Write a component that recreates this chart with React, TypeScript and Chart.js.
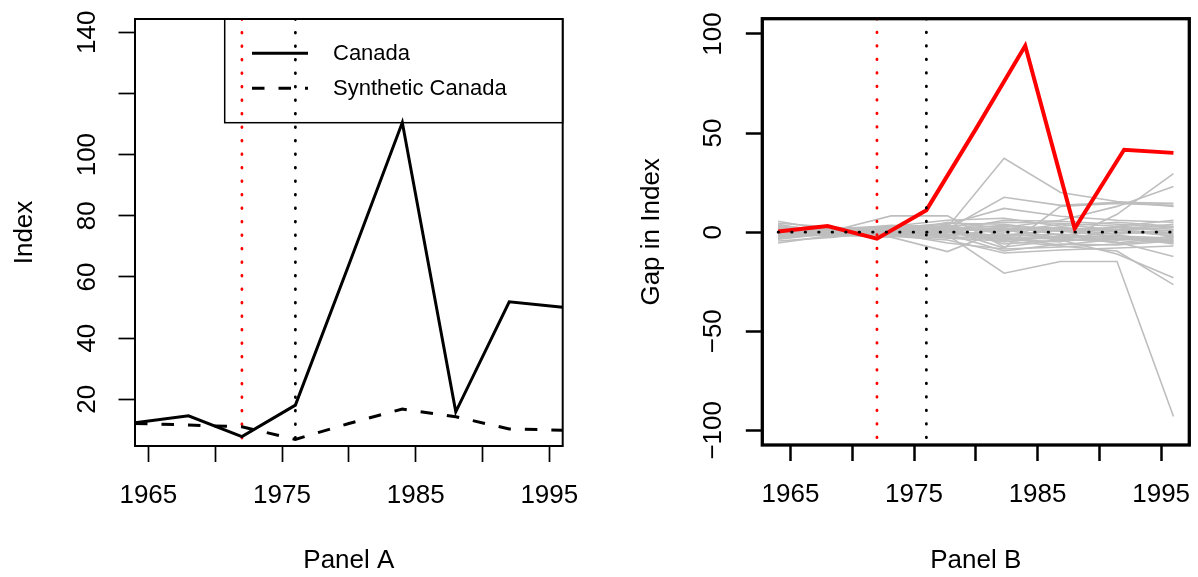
import React, { useEffect, useRef } from 'react';
import { Chart, registerables } from 'chart.js';

Chart.register(...registerables);

const FONT = '"Liberation Sans", Arial, Helvetica, sans-serif';

// ---- data ----
const years = [1964, 1968, 1972, 1976, 1980, 1984, 1988, 1992, 1996];
const canada = [12.3, 14.6, 7.8, 18.1, 64.0, 110.5, 15.9, 51.9, 50.1];
const syntheticCanada = [12.1, 11.6, 11.0, 6.9, 12.1, 16.8, 14.3, 10.3, 9.9];
const gapCanada = [0.3, 3.1, -3.3, 11.1, 52.0, 94.0, 1.8, 41.6, 40.0];

const placeboYears = [1964, 1968.57, 1973.14, 1977.71, 1982.29, 1986.86, 1991.43, 1996];
const placebo01 = [1.5, 0.5, 2.0, 2.5, 37.3, 20.0, 15.5, 13.0];
const placebo02 = [-1.0, 0.5, -0.5, 1.0, -3.5, -5.0, 9.0, 29.5];
const placebo03 = [0.5, -0.5, 1.0, 0.0, 2.5, 6.0, 13.0, 23.0];
const placebo04 = [-0.5, 1.0, 0.5, 1.5, 17.6, 13.5, 15.0, 14.5];
const placebo05 = [2.0, 1.5, 2.5, 4.0, 12.0, 8.0, 6.0, 5.0];
const placebo06 = [0.0, -1.0, 1.5, 1.0, -8.0, 13.0, 14.5, 13.5];
const placebo07 = [3.0, 1.0, 8.2, 8.2, -7.5, -4.0, 1.0, 2.5];
const placebo08 = [-2.0, -1.5, -2.5, -9.8, 1.5, 0.5, -2.0, -3.0];
const placebo09 = [1.0, -1.0, 0.0, -1.5, -20.7, -14.8, -14.8, -93.0];
const placebo10 = [-1.5, 0.0, 0.5, 2.0, -6.0, -4.0, -11.0, -23.0];
const placebo11 = [1.0, 0.5, -1.5, -3.0, -4.5, -7.0, -9.5, -26.5];
const placebo12 = [0.0, 1.0, 0.5, 0.5, -2.5, -3.5, -5.0, -12.3];
const placebo13 = [5.5, 0.5, 1.0, 2.0, 3.0, 2.0, 1.5, 4.0];
const placebo14 = [-5.5, -1.5, -0.5, 0.5, -2.0, -1.0, -3.0, -5.0];
const placebo15 = [4.0, -1.0, 0.0, 3.0, 5.0, 4.5, 3.0, 1.5];
const placebo16 = [-3.5, 1.5, 1.0, -1.0, -9.5, -6.0, -6.5, -4.5];
const placebo17 = [2.5, -2.0, -1.0, 5.0, 2.0, -3.0, -2.0, -6.0];
const placebo18 = [-3.0, 2.0, 3.0, 6.0, 7.0, 3.0, 5.0, 3.0];
const placebo19 = [3.5, 0.0, -2.0, -4.0, -10.5, -9.0, -8.0, -7.0];
const placebo20 = [-4.5, -2.5, 1.5, 2.0, 1.0, 2.5, 0.0, -1.0];
const placebo21 = [2.0, 1.0, -1.0, 0.5, -5.0, -2.0, -4.0, -2.5];
const placebo22 = [-2.5, 0.0, 2.0, 4.5, 4.0, 0.5, 1.0, -2.0];
const placebo23 = [0.5, -2.0, 0.0, -2.5, -3.0, -6.5, -3.5, -4.0];
const placebo24 = [-1.0, 1.5, -1.5, 1.0, 6.0, 5.5, 4.0, 2.5];
const placebo25 = [4.5, 2.5, 0.5, -1.0, -1.5, 1.0, 2.5, 0.5];
const placebo26 = [-2.0, -1.0, 1.0, 3.5, -1.0, -3.0, -1.5, -5.5];
const placebo27 = [1.5, 0.0, -0.5, -5.5, -8.5, -7.5, -6.0, -3.5];
const placebo28 = [-3.5, -0.5, 0.0, 1.5, 3.5, -1.5, -5.5, -2.0];
const placebo29 = [0.0, 1.0, 3.5, 2.5, 0.0, 4.0, 1.0, -0.5];
const placebo30 = [2.5, -0.5, -1.0, -2.0, 1.5, -4.5, -3.0, -4.5];
const placebo31 = [-1.0, 0.5, 0.0, 0.0, -4.0, -2.0, 3.0, 6.0];
const placebo32 = [1.0, -1.5, 2.5, 1.0, 2.0, 1.5, -1.0, 1.0];
const placeboGaps = [
  placebo01, placebo02, placebo03, placebo04, placebo05, placebo06, placebo07, placebo08,
  placebo09, placebo10, placebo11, placebo12, placebo13, placebo14, placebo15, placebo16,
  placebo17, placebo18, placebo19, placebo20, placebo21, placebo22, placebo23, placebo24,
  placebo25, placebo26, placebo27, placebo28, placebo29, placebo30, placebo31, placebo32,
];

const treatmentYear = 1972; // red dotted line
const policyYear = 1976; // black dotted line
const zeroLineYears = [1964, 1996.5];
const zeroLineValues = [0, 0];

const xTicks = [1965, 1970, 1975, 1980, 1985, 1990, 1995];
const xTickLabels = ['1965', '', '1975', '', '1985', '', '1995'];
const yTicksA = [20, 40, 60, 80, 100, 120, 140];
const yTickLabelsA = ['20', '40', '60', '80', '100', '', '140'];
const yTicksB = [-100, -50, 0, 50, 100];
const yTickLabelsB = ['\u2212100', '\u221250', '0', '50', '100'];

const xRangeA = [1964, 1996];
const yRangeA = [4.73, 144.35];
const xRangeB = [1962.72, 1997.28];
const yRangeB = [-107.4, 107.7];

// ---- plugins ----
const framePlugin = (lw: number) => ({
  id: 'frame',
  afterDatasetsDraw(chart: any) {
    const { ctx, chartArea: a } = chart;
    ctx.save();
    ctx.strokeStyle = '#000';
    ctx.lineWidth = lw;
    ctx.setLineDash([]);
    ctx.strokeRect(a.left, a.top, a.right - a.left, a.bottom - a.top);
    ctx.restore();
  },
});

const yLabelPlugin = (xCenter: number, ticks: number[], labels: string[]) => ({
  id: 'yRotLabels',
  afterDraw(chart: any) {
    const { ctx } = chart;
    const s = chart.scales.y;
    ctx.save();
    ctx.fillStyle = '#000';
    ctx.font = `26px ${FONT}`;
    ctx.textAlign = 'center';
    ctx.textBaseline = 'middle';
    ticks.forEach((v, i) => {
      const lab = labels[i];
      if (!lab) return;
      const py = s.getPixelForValue(v);
      ctx.save();
      ctx.translate(xCenter, py);
      ctx.rotate(-Math.PI / 2);
      ctx.fillText(lab, 0, 0);
      ctx.restore();
    });
    ctx.restore();
  },
});

const legendPlugin = {
  id: 'boxLegend',
  afterDatasetsDraw(chart: any) {
    const { ctx, chartArea } = chart;
    const w = 338;
    const h = 103.7;
    const left = chartArea.right - w;
    const top = chartArea.top;
    ctx.save();
    ctx.strokeStyle = '#000';
    ctx.lineWidth = 1.5;
    ctx.setLineDash([]);
    ctx.strokeRect(left, top, w, h);
    [0, 1].forEach((di, row) => {
      const ds = chart.data.datasets[di];
      const y = top + 34.3 + row * 35;
      ctx.beginPath();
      ctx.setLineDash(ds.borderDash || []);
      ctx.lineWidth = ds.borderWidth;
      ctx.strokeStyle = ds.borderColor;
      ctx.moveTo(left + 27.3, y);
      ctx.lineTo(left + 83.3, y);
      ctx.stroke();
      ctx.setLineDash([]);
      ctx.font = `22px ${FONT}`;
      ctx.fillStyle = '#000';
      ctx.textBaseline = 'middle';
      ctx.textAlign = 'left';
      ctx.fillText(ds.label, left + 108.3, y + 1);
    });
    ctx.restore();
  },
};

const toPts = (xs: number[], ys: number[]) => xs.map((x, i) => ({ x, y: ys[i] }));

const vLine = (x: number, range: number[], color: string, label: string) => ({
  label,
  data: [{ x, y: range[1] }, { x, y: range[0] }],
  borderColor: color,
  borderWidth: 2.8,
  borderDash: [0.5, 13],
  borderCapStyle: 'round',
  pointRadius: 0,
  fill: false,
});

const xScale = (range: number[], height: number, title: string, tickWidth: number) => ({
  type: 'linear',
  min: range[0],
  max: range[1],
  afterBuildTicks: (s: any) => {
    s.ticks = xTicks.map((v) => ({ value: v }));
  },
  afterFit: (s: any) => {
    s.height = height;
    s.paddingLeft = 0;
    s.paddingRight = 0;
  },
  ticks: {
    autoSkip: false,
    maxRotation: 0,
    minRotation: 0,
    padding: 18,
    color: '#000',
    font: { size: 26, family: FONT },
    callback: (v: number) => xTickLabels[xTicks.indexOf(v)] ?? '',
  },
  grid: { drawOnChartArea: false, drawTicks: true, tickLength: 16, tickWidth: tickWidth, tickColor: '#000' },
  border: { display: false },
  title: {
    display: true,
    text: title,
    color: '#000',
    font: { size: 26, family: FONT },
    padding: { top: 0, bottom: 0.5 },
  },
});

const yScale = (
  range: number[],
  ticks: number[],
  width: number,
  title: string,
  titlePad: number,
  tickWidth: number
) => ({
  type: 'linear',
  min: range[0],
  max: range[1],
  afterBuildTicks: (s: any) => {
    s.ticks = ticks.map((v) => ({ value: v }));
  },
  afterFit: (s: any) => {
    s.width = width;
    s.paddingTop = 0;
    s.paddingBottom = 0;
  },
  ticks: { display: false },
  grid: { drawOnChartArea: false, drawTicks: true, tickLength: 16.5, tickWidth: tickWidth, tickColor: '#000' },
  border: { display: false },
  title: {
    display: true,
    text: title,
    color: '#000',
    font: { size: 26, family: FONT },
    padding: { top: titlePad, bottom: 0 },
  },
});

export default function App() {
  const refA = useRef<HTMLCanvasElement | null>(null);
  const refB = useRef<HTMLCanvasElement | null>(null);

  useEffect(() => {
    Chart.defaults.font.family = FONT;
    Chart.defaults.color = '#000';

    const chartA = new Chart(refA.current as HTMLCanvasElement, {
      type: 'line',
      data: {
        datasets: [
          {
            label: 'Canada',
            data: toPts(years, canada),
            borderColor: '#000',
            borderWidth: 3,
            borderJoinStyle: 'miter',
            pointRadius: 0,
            fill: false,
          },
          {
            label: 'Synthetic Canada',
            data: toPts(years, syntheticCanada),
            borderColor: '#000',
            borderWidth: 3,
            borderDash: [12.5, 14],
            pointRadius: 0,
            fill: false,
          },
          vLine(treatmentYear, yRangeA, '#ff0000', 'treatment'),
          vLine(policyYear, yRangeA, '#000000', 'policy'),
        ] as any,
      },
      options: {
        responsive: false,
        animation: false,
        devicePixelRatio: 1,
        layout: { padding: { left: 0, right: 37.3, top: 19, bottom: 0 } },
        plugins: { legend: { display: false }, tooltip: { enabled: false } },
        scales: {
          x: xScale(xRangeA, 131, 'Panel A', 1.7),
          y: yScale(yRangeA, yTicksA, 135, 'Index', 9.5, 1.7),
        } as any,
      },
      plugins: [framePlugin(2), yLabelPlugin(88, yTicksA, yTickLabelsA), legendPlugin],
    });

    const chartB = new Chart(refB.current as HTMLCanvasElement, {
      type: 'line',
      data: {
        datasets: [
          vLine(treatmentYear, yRangeB, '#ff0000', 'treatment'),
          vLine(policyYear, yRangeB, '#000000', 'policy'),
          {
            label: 'zero',
            data: toPts(zeroLineYears, zeroLineValues),
            borderColor: '#000',
            borderWidth: 2.8,
            borderDash: [0.5, 13],
            borderCapStyle: 'round',
            pointRadius: 0,
            fill: false,
          },
          {
            label: 'Canada gap',
            data: toPts(years, gapCanada),
            borderColor: '#ff0000',
            borderWidth: 4,
            borderJoinStyle: 'miter',
            pointRadius: 0,
            fill: false,
          },
          ...placeboGaps.map((p, i) => ({
            label: `placebo ${i + 1}`,
            data: toPts(placeboYears, p),
            borderColor: '#bebebe',
            borderWidth: 1.6,
            pointRadius: 0,
            fill: false,
          })),
        ] as any,
      },
      options: {
        responsive: false,
        animation: false,
        devicePixelRatio: 1,
        layout: { padding: { left: 0, right: 8.7, top: 18.7, bottom: 0 } },
        plugins: { legend: { display: false }, tooltip: { enabled: false } },
        scales: {
          x: xScale(xRangeB, 132, 'Panel B', 2.5),
          y: yScale(yRangeB, yTicksB, 162.3, 'Gap in Index', 36, 2.5),
        } as any,
      },
      plugins: [framePlugin(3.3), yLabelPlugin(114, yTicksB, yTickLabelsB)],
    });

    return () => {
      chartA.destroy();
      chartB.destroy();
    };
  }, []);

  return (
    <div
      style={{
        position: 'fixed',
        left: 0,
        top: 0,
        width: 1198,
        height: 577,
        background: '#fff',
        overflow: 'hidden',
      }}
    >
      <canvas
        ref={refA}
        width={600}
        height={577}
        style={{ position: 'absolute', left: 0, top: 0, width: 600, height: 577 }}
      />
      <canvas
        ref={refB}
        width={598}
        height={577}
        style={{ position: 'absolute', left: 600, top: 0, width: 598, height: 577 }}
      />
    </div>
  );
}
